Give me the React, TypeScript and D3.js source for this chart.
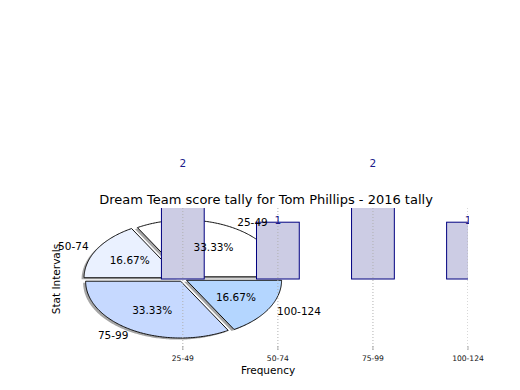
import { useEffect, useRef } from "react"
import * as d3 from "d3"

const intervals = ["25-49", "50-74", "75-99", "100-124"]
const counts = [2, 1, 2, 1]
const pieColors = ["#ffffff", "#eaf1ff", "#c6d9ff", "#b4d6ff"]
const explode = [0.045, 0.045, 0.045, 0.045]
const title = "Dream Team score tally for Tom Phillips - 2016 tally"

const App = () => {
  const svgRef = useRef<SVGSVGElement>(null)

  useEffect(() => {
    if (!svgRef.current) return
    const svg = d3.select(svgRef.current)
    svg.selectAll("*").remove()

    const font = "DejaVu Sans, sans-serif"
    // axes box
    const left = 64
    const right = 468
    const top = 208
    const bottom = 350

    const x = d3.scaleLinear().domain([-1.25, 3]).range([left, right])
    const y = d3.scaleLinear().domain([-1.25, 1.25]).range([bottom, top])

    const defs = svg.append("defs")
    defs.append("clipPath").attr("id", "axclip")
      .append("rect").attr("x", left).attr("y", top).attr("width", right - left).attr("height", bottom - top)
    defs.append("clipPath").attr("id", "hclip")
      .append("rect").attr("x", 0).attr("y", 0).attr("width", right + 1).attr("height", 390)

    const total = d3.sum(counts)
    const pieGen = d3.pie<number>().sort(null).value((d) => d)
    const arcs = pieGen(counts)

    // wedge as list of data points (angles counter-clockwise from +x, like matplotlib)
    const wedgePoints = (i: number, dx = 0, dy = 0) => {
      const a0 = (arcs[i].startAngle / (2 * Math.PI)) * 360
      const a1 = (arcs[i].endAngle / (2 * Math.PI)) * 360
      const mid = ((a0 + a1) / 2) * (Math.PI / 180)
      const cx = explode[i] * Math.cos(mid) + dx
      const cy = explode[i] * Math.sin(mid) + dy
      const pts: [number, number][] = [[cx, cy]]
      d3.range(a0, a1 + 0.001, 1).forEach((deg) => {
        const t = (deg * Math.PI) / 180
        pts.push([cx + Math.cos(t), cy + Math.sin(t)])
      })
      pts.push([cx, cy])
      return pts
    }

    const line = d3.line<[number, number]>().x((d) => x(d[0])).y((d) => y(d[1]))

    const plot = svg.append("g").attr("clip-path", "url(#axclip)")

    // shadows first
    counts.forEach((_, i) => {
      plot.append("path")
        .attr("d", line(wedgePoints(i, -0.026, -0.028)))
        .attr("fill", "#4d4d4d")
        .attr("fill-opacity", 0.5)
    })
    counts.forEach((_, i) => {
      plot.append("path")
        .attr("d", line(wedgePoints(i)))
        .attr("fill", pieColors[i])
        .attr("stroke", "#111")
        .attr("stroke-width", 1)
        .attr("stroke-linejoin", "round")
    })

    // bars
    const barW = 0.45
    counts.forEach((c, i) => {
      plot.append("rect")
        .attr("x", x(i - barW / 2))
        .attr("y", y(c))
        .attr("width", x(i + barW / 2) - x(i - barW / 2))
        .attr("height", y(0) - y(c))
        .attr("fill", "#ccccE4")
        .attr("stroke", "#000080")
        .attr("stroke-width", 1)
    })

    // grid, ticks, tick labels
    intervals.forEach((_, i) => {
      plot.append("line")
        .attr("x1", x(i)).attr("x2", x(i))
        .attr("y1", top).attr("y2", bottom)
        .attr("stroke", "#b0b0b0")
        .attr("stroke-width", 1)
        .attr("stroke-dasharray", "1,2")
      svg.append("line")
        .attr("x1", x(i)).attr("x2", x(i))
        .attr("y1", bottom - 4).attr("y2", bottom)
        .attr("stroke", "#aaa")
        .attr("stroke-width", 1)
      svg.append("text")
        .attr("x", x(i)).attr("y", bottom + 11)
        .attr("text-anchor", "middle")
        .attr("font-family", font)
        .attr("font-size", 7.6)
        .attr("fill", "#111")
        .text(intervals[i])
    })

    // pie labels
    arcs.forEach((a, i) => {
      const mid = (a.startAngle + a.endAngle) / 2
      const cx = explode[i] * Math.cos(mid)
      const cy = explode[i] * Math.sin(mid)
      const lx = cx + 1.1 * Math.cos(mid)
      const ly = cy + 1.1 * Math.sin(mid)
      svg.append("text")
        .attr("x", x(lx)).attr("y", y(ly))
        .attr("dy", "0.35em")
        .attr("text-anchor", lx > 0 ? "start" : "end")
        .attr("font-family", font)
        .attr("font-size", 10.5)
        .attr("fill", "#000")
        .text(intervals[i])
      const px = cx + 0.6 * Math.cos(mid)
      const py = cy + 0.6 * Math.sin(mid)
      svg.append("text")
        .attr("x", x(px)).attr("y", y(py))
        .attr("dy", "0.35em")
        .attr("text-anchor", "middle")
        .attr("font-family", font)
        .attr("font-size", 10.5)
        .attr("fill", "#000")
        .text(((counts[i] / total) * 100).toFixed(2) + "%")
    })

    // bar value labels
    const lab = svg.append("g").attr("clip-path", "url(#hclip)")
    counts.forEach((c, i) => {
      lab.append("text")
        .attr("x", x(i)).attr("y", y(c) + 2)
        .attr("text-anchor", "middle")
        .attr("font-family", font)
        .attr("font-size", 10.5)
        .attr("fill", "#1a1a8a")
        .text(c)
    })

    svg.append("text")
      .attr("x", (left + right) / 2).attr("y", top - 4)
      .attr("text-anchor", "middle")
      .attr("font-family", font)
      .attr("font-size", 13)
      .attr("fill", "#000")
      .text(title)

    svg.append("text")
      .attr("x", (left + right) / 2 + 2).attr("y", bottom + 24)
      .attr("text-anchor", "middle")
      .attr("font-family", font)
      .attr("font-size", 10.5)
      .attr("fill", "#000")
      .text("Frequency")

    svg.append("text")
      .attr("transform", `translate(60,${(top + bottom) / 2}) rotate(-90)`)
      .attr("text-anchor", "middle")
      .attr("font-family", font)
      .attr("font-size", 10.5)
      .attr("fill", "#000")
      .text("Stat Intervals")
  }, [])

  return (
    <svg
      ref={svgRef}
      width={520}
      height={390}
      style={{ position: "absolute", left: 0, top: 0, background: "#fff" }}
    />
  )
}

export default App
